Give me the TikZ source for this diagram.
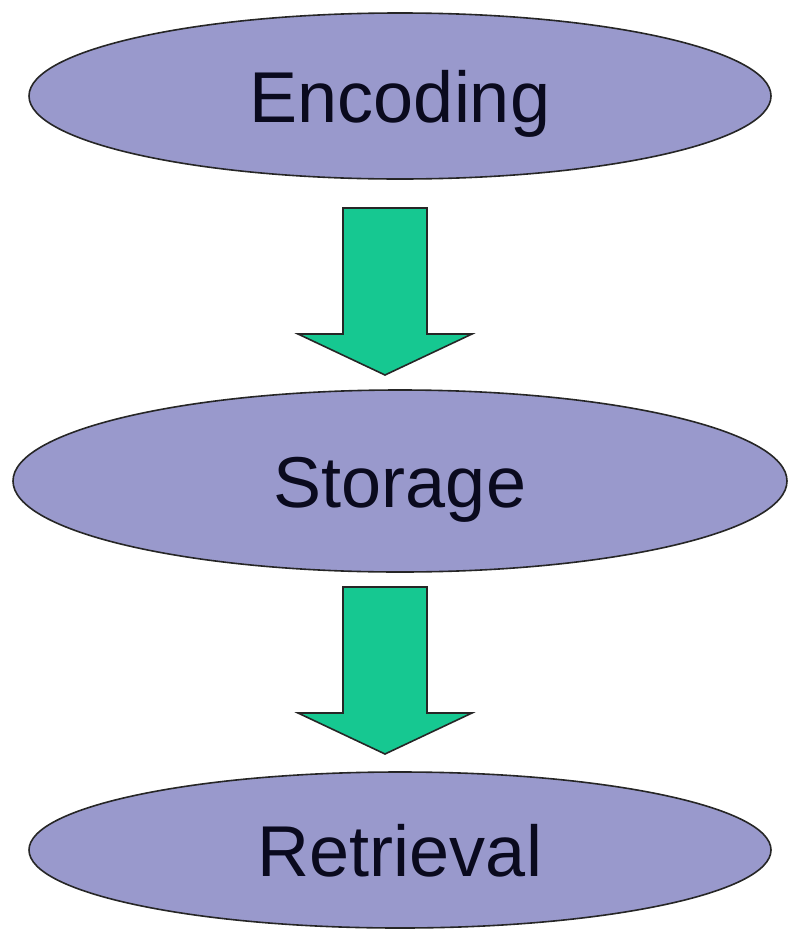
\documentclass[tikz,border=0pt]{standalone}
\usepackage{fontspec}
\setmainfont{Liberation Sans}
\usetikzlibrary{shapes.geometric}
\definecolor{stagefill}{RGB}{153,153,204}
\definecolor{arrowfill}{RGB}{22,200,145}
\definecolor{stagetext}{RGB}{10,10,30}
\tikzset{
  stage/.style={ellipse, draw=black!85, line width=1.6pt, fill=stagefill,
    inner sep=0pt, text height=52pt, text depth=0pt, text=stagetext,
    font=\fontsize{72}{80}\selectfont},
  flow/.style={draw=black!85, line width=1.6pt, fill=arrowfill, line join=miter}
}
\begin{document}
\begin{tikzpicture}[x=1pt, y=-1pt]
\useasboundingbox (0,0) rectangle (794,932);
\node [stage, minimum width=742pt, minimum height=166pt] (enc) at (400,96) {Encoding};
\node [stage, minimum width=774pt, minimum height=182pt] (sto) at (400,481) {Storage};
\node [stage, minimum width=742pt, minimum height=156pt] (ret) at (400,850) {Retrieval};
% block arrows between the stages
\coordinate (a1) at (385,208);
\coordinate (a2) at (385,587);
\foreach \c in {a1,a2}
  \draw [flow] (\c) ++(-42,0) -- ++(84,0) -- ++(0,126) -- ++(45,0)
    -- ++(-87,41) -- ++(-87,-41) -- ++(45,0) -- cycle;
\end{tikzpicture}
\end{document}
